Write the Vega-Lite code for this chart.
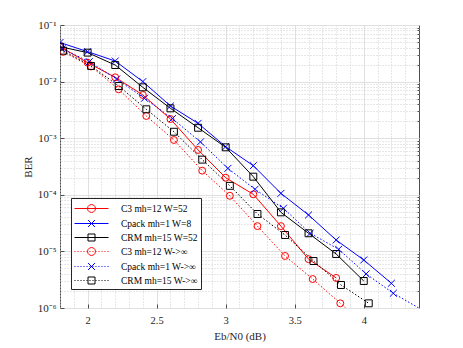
{
  "$schema": "https://vega.github.io/schema/vega-lite/v6.json",
  "width": 359,
  "height": 283,
  "autosize": "none",
  "padding": {"left": 60, "top": 25, "right": 44, "bottom": 40},
  "background": "white",
  "config": {
    "font": "Liberation Serif",
    "view": {"stroke": "#4d4d4d", "strokeWidth": 1},
    "axis": {"labelFont": "Liberation Serif", "titleFont": "Liberation Serif", "labelColor": "#262626", "titleColor": "#262626", "titleFontWeight": "normal", "domain": false}
  },
  "data": {"values": [
    {"s": "C3 mh=12 W=52", "x": 1.8, "y": 0.0414},
    {"s": "C3 mh=12 W=52", "x": 2.0, "y": 0.0216},
    {"s": "C3 mh=12 W=52", "x": 2.2, "y": 0.0119},
    {"s": "C3 mh=12 W=52", "x": 2.4, "y": 0.0058},
    {"s": "C3 mh=12 W=52", "x": 2.6, "y": 0.00218},
    {"s": "C3 mh=12 W=52", "x": 2.8, "y": 0.00062},
    {"s": "C3 mh=12 W=52", "x": 3.0, "y": 0.0002},
    {"s": "C3 mh=12 W=52", "x": 3.2, "y": 0.000102},
    {"s": "C3 mh=12 W=52", "x": 3.4, "y": 0.000028},
    {"s": "C3 mh=12 W=52", "x": 3.6, "y": 0.0000073},
    {"s": "C3 mh=12 W=52", "x": 3.8, "y": 0.0000034},
    {"s": "Cpack mh=1 W=8", "x": 1.8, "y": 0.049},
    {"s": "Cpack mh=1 W=8", "x": 2.0, "y": 0.0338},
    {"s": "Cpack mh=1 W=8", "x": 2.2, "y": 0.0231},
    {"s": "Cpack mh=1 W=8", "x": 2.4, "y": 0.01},
    {"s": "Cpack mh=1 W=8", "x": 2.6, "y": 0.00371},
    {"s": "Cpack mh=1 W=8", "x": 2.8, "y": 0.00183},
    {"s": "Cpack mh=1 W=8", "x": 3.0, "y": 0.000708},
    {"s": "Cpack mh=1 W=8", "x": 3.2, "y": 0.000327},
    {"s": "Cpack mh=1 W=8", "x": 3.4, "y": 0.000106},
    {"s": "Cpack mh=1 W=8", "x": 3.6, "y": 0.000044},
    {"s": "Cpack mh=1 W=8", "x": 3.8, "y": 0.0000159},
    {"s": "Cpack mh=1 W=8", "x": 4.0, "y": 0.00000705},
    {"s": "Cpack mh=1 W=8", "x": 4.2, "y": 0.00000273},
    {"s": "CRM mh=15 W=52", "x": 1.8, "y": 0.0414},
    {"s": "CRM mh=15 W=52", "x": 2.0, "y": 0.0325},
    {"s": "CRM mh=15 W=52", "x": 2.2, "y": 0.0196},
    {"s": "CRM mh=15 W=52", "x": 2.4, "y": 0.00792},
    {"s": "CRM mh=15 W=52", "x": 2.6, "y": 0.00337},
    {"s": "CRM mh=15 W=52", "x": 2.8, "y": 0.00153},
    {"s": "CRM mh=15 W=52", "x": 3.0, "y": 0.00069},
    {"s": "CRM mh=15 W=52", "x": 3.2, "y": 0.000209},
    {"s": "CRM mh=15 W=52", "x": 3.4, "y": 0.000049},
    {"s": "CRM mh=15 W=52", "x": 3.6, "y": 0.0000209},
    {"s": "CRM mh=15 W=52", "x": 3.8, "y": 0.000009},
    {"s": "CRM mh=15 W=52", "x": 4.0, "y": 0.000003},
    {"s": "C3 mh=12 W->∞", "x": 1.823, "y": 0.0335},
    {"s": "C3 mh=12 W->∞", "x": 2.025, "y": 0.0185},
    {"s": "C3 mh=12 W->∞", "x": 2.225, "y": 0.0073},
    {"s": "C3 mh=12 W->∞", "x": 2.425, "y": 0.00247},
    {"s": "C3 mh=12 W->∞", "x": 2.625, "y": 0.00093},
    {"s": "C3 mh=12 W->∞", "x": 2.83, "y": 0.000267},
    {"s": "C3 mh=12 W->∞", "x": 3.03, "y": 0.000096},
    {"s": "C3 mh=12 W->∞", "x": 3.23, "y": 0.000028},
    {"s": "C3 mh=12 W->∞", "x": 3.43, "y": 0.0000083},
    {"s": "C3 mh=12 W->∞", "x": 3.63, "y": 0.00000325},
    {"s": "C3 mh=12 W->∞", "x": 3.83, "y": 0.00000121},
    {"s": "C3 mh=12 W->∞", "x": 4.03, "y": 0.00000045},
    {"s": "Cpack mh=1 W->∞", "x": 1.815, "y": 0.038},
    {"s": "Cpack mh=1 W->∞", "x": 2.012, "y": 0.0225},
    {"s": "Cpack mh=1 W->∞", "x": 2.21, "y": 0.0111},
    {"s": "Cpack mh=1 W->∞", "x": 2.412, "y": 0.00507},
    {"s": "Cpack mh=1 W->∞", "x": 2.614, "y": 0.00222},
    {"s": "Cpack mh=1 W->∞", "x": 2.817, "y": 0.00086},
    {"s": "Cpack mh=1 W->∞", "x": 3.016, "y": 0.000293},
    {"s": "Cpack mh=1 W->∞", "x": 3.212, "y": 0.000125},
    {"s": "Cpack mh=1 W->∞", "x": 3.418, "y": 0.0000577},
    {"s": "Cpack mh=1 W->∞", "x": 3.612, "y": 0.0000209},
    {"s": "Cpack mh=1 W->∞", "x": 3.818, "y": 0.0000109},
    {"s": "Cpack mh=1 W->∞", "x": 4.017, "y": 0.000004},
    {"s": "Cpack mh=1 W->∞", "x": 4.214, "y": 0.00000182},
    {"s": "Cpack mh=1 W->∞", "x": 4.6, "y": 0.00000052},
    {"s": "CRM mh=15 W->∞", "x": 1.823, "y": 0.0352},
    {"s": "CRM mh=15 W->∞", "x": 2.025, "y": 0.0189},
    {"s": "CRM mh=15 W->∞", "x": 2.225, "y": 0.00836},
    {"s": "CRM mh=15 W->∞", "x": 2.425, "y": 0.00324},
    {"s": "CRM mh=15 W->∞", "x": 2.625, "y": 0.0013},
    {"s": "CRM mh=15 W->∞", "x": 2.83, "y": 0.000418},
    {"s": "CRM mh=15 W->∞", "x": 3.03, "y": 0.000144},
    {"s": "CRM mh=15 W->∞", "x": 3.23, "y": 0.0000458},
    {"s": "CRM mh=15 W->∞", "x": 3.43, "y": 0.0000195},
    {"s": "CRM mh=15 W->∞", "x": 3.636, "y": 0.00000676},
    {"s": "CRM mh=15 W->∞", "x": 3.835, "y": 0.00000255},
    {"s": "CRM mh=15 W->∞", "x": 4.036, "y": 0.00000121}
  ]},
  "resolve": {"axis": {"x": "independent", "y": "independent"}},
  "layer": [
    {
      "transform": [{"filter": "indexof(datum.s, '∞') < 0"}],
      "mark": {"type": "line", "strokeWidth": 1, "clip": true},
      "encoding": {
        "x": {"field": "x", "type": "quantitative", "title": "Eb/N0 (dB)",
          "scale": {"domain": [1.8, 4.4], "nice": false, "zero": false},
          "axis": {"orient": "bottom", "values": [2, 2.5, 3, 3.5, 4], "labelExpr": "'' + datum.value", "labelFontSize": 10.5, "titleFontSize": 11, "labelPadding": 11, "titlePadding": 5, "ticks": true, "tickSize": -4, "tickColor": "#4d4d4d", "grid": true, "gridColor": "#e0e0e0", "labelFlush": false}},
        "y": {"field": "y", "type": "quantitative", "title": "BER",
          "scale": {"type": "log", "domain": [0.000001, 0.1], "nice": false},
          "axis": {"orient": "left", "values": [0.000001, 0.00001, 0.0001, 0.001, 0.01, 0.1], "labelExpr": "'10' + ['⁰','⁻¹','⁻²','⁻³','⁻⁴','⁻⁵','⁻⁶'][-round(log(datum.value)/LN10)]", "labelFontSize": 11, "titleFontSize": 11, "labelPadding": 8, "titlePadding": 4, "ticks": true, "tickSize": -4, "tickColor": "#4d4d4d", "grid": true, "gridColor": "#e0e0e0", "labelFlush": false}},
        "color": {"field": "s", "type": "nominal",
          "scale": {"domain": ["C3 mh=12 W=52", "Cpack mh=1 W=8", "CRM mh=15 W=52", "C3 mh=12 W->∞", "Cpack mh=1 W->∞", "CRM mh=15 W->∞"], "range": ["#ff0000", "#0000ff", "#000000", "#ff0000", "#0000ff", "#000000"]},
          "legend": {"title": null, "orient": "none", "legendX": 11, "legendY": 173, "symbolSize": 196, "symbolOffset": 10, "labelOffset": 22, "labelFont": "Liberation Serif", "labelFontSize": 9.5, "labelColor": "#000000", "padding": 3, "strokeColor": "#262626", "fillColor": "white", "rowPadding": 1, "symbolStrokeWidth": 1,
            "encode": {"symbols": {"update": {
              "fill": {"value": "transparent"},
              "strokeDash": {"value": []},
              "strokeWidth": {"value": 1},
              "opacity": {"value": 1},
              "size": {"value": 196},
              "shape": {"signal": "(indexof(datum.value, '∞') < 0 ? 'M-2.429,0L2.429,0' : 'M-2.429,0L-2.286,0M-2,0L-1.857,0M-1.571,0L-1.429,0M-1.143,0L-1,0M-0.714,0L-0.571,0M-0.286,0L-0.143,0M0.143,0L0.286,0M0.571,0L0.714,0M1,0L1.143,0M1.429,0L1.571,0M1.857,0L2,0M2.286,0L2.429,0') + (indexof(datum.value, 'C3') === 0 ? 'M0.571,0L0.4945,0.2855L0.2855,0.4945L0,0.571L-0.2855,0.4945L-0.4945,0.2855L-0.571,0L-0.4945,-0.2855L-0.2855,-0.4945L0,-0.571L0.2855,-0.4945L0.4945,-0.2855Z' : indexof(datum.value, 'Cpack') === 0 ? 'M-0.5,-0.5L0.5,0.5M-0.5,0.5L0.5,-0.5' : 'M-0.5,-0.5L0.5,-0.5L0.5,0.5L-0.5,0.5Z')"}
            }}}}}
      }
    },
    {
      "transform": [{"filter": "indexof(datum.s, '∞') >= 0"}],
      "mark": {"type": "line", "strokeWidth": 1, "strokeDash": [1.5, 2], "clip": true},
      "encoding": {
        "x": {"field": "x", "type": "quantitative", "axis": null},
        "y": {"field": "y", "type": "quantitative", "axis": null},
        "color": {"field": "s", "type": "nominal"}
      }
    },
    {
      "transform": [{"filter": "indexof(datum.s, 'C3') === 0"}],
      "mark": {"type": "point", "shape": "circle", "filled": false, "strokeWidth": 1, "size": 48, "clip": true, "opacity": 1},
      "encoding": {
        "x": {"field": "x", "type": "quantitative",
          "axis": {"orient": "top", "title": null, "labels": false, "ticks": false, "values": [1.8, 1.9, 2.1, 2.2, 2.3, 2.4, 2.6, 2.7, 2.8, 2.9, 3.1, 3.2, 3.3, 3.4, 3.6, 3.7, 3.8, 3.9, 4.1, 4.2, 4.3], "grid": true, "gridColor": "#cfcfcf", "gridDash": [1, 2]}},
        "y": {"field": "y", "type": "quantitative",
          "axis": {"orient": "right", "title": null, "labels": false, "ticks": true, "tickSize": -2, "tickColor": "#4d4d4d", "values": [0.000002, 0.000003, 0.000004, 0.000005, 0.000006, 0.000007, 0.000008, 0.000009, 0.00002, 0.00003, 0.00004, 0.00005, 0.00006, 0.00007, 0.00008, 0.00009, 0.0002, 0.0003, 0.0004, 0.0005, 0.0006, 0.0007, 0.0008, 0.0009, 0.002, 0.003, 0.004, 0.005, 0.006, 0.007, 0.008, 0.009, 0.02, 0.03, 0.04, 0.05, 0.06, 0.07, 0.08, 0.09], "grid": true, "gridColor": "#cfcfcf", "gridDash": [1, 2]}},
        "color": {"field": "s", "type": "nominal"}
      }
    },
    {
      "transform": [{"filter": "indexof(datum.s, 'Cpack') === 0"}],
      "mark": {"type": "point", "shape": "M-1,-1L1,1M-1,1L1,-1", "filled": false, "strokeWidth": 1, "size": 48, "clip": true, "opacity": 1},
      "encoding": {
        "x": {"field": "x", "type": "quantitative", "axis": null},
        "y": {"field": "y", "type": "quantitative", "axis": null},
        "color": {"field": "s", "type": "nominal"}
      }
    },
    {
      "transform": [{"filter": "indexof(datum.s, 'CRM') === 0"}],
      "mark": {"type": "point", "shape": "square", "filled": false, "strokeWidth": 1, "size": 48, "clip": true, "opacity": 1},
      "encoding": {
        "x": {"field": "x", "type": "quantitative", "axis": null},
        "y": {"field": "y", "type": "quantitative", "axis": null},
        "color": {"field": "s", "type": "nominal"}
      }
    }
  ]
}
